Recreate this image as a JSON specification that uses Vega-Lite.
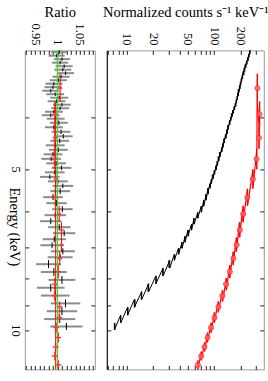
{
  "$schema": "https://vega.github.io/schema/vega-lite/v6.json",
  "padding": {"left": 6.8, "top": 3.4, "right": 0, "bottom": 0},
  "spacing": 0,
  "config": {
    "font": "Liberation Serif",
    "view": {"stroke": "#9a9a9a", "strokeWidth": 1},
    "axis": {
      "labelFont": "Liberation Serif", "titleFont": "Liberation Serif",
      "labelFontSize": 12.5, "titleFontSize": 14.5, "titleFontWeight": "normal",
      "labelColor": "#000", "titleColor": "#000", "tickColor": "#222",
      "domain": false, "grid": false, "tickSize": -4, "labelPadding": 9.5, "labelFlush": false, "labelOverlap": false
    }
  },
  "datasets": {
    "black": [
      {"i":1,"lo":3.000,"hi":3.046,"e":3.023,"mod":256,"cts":257,"r":1.004,"re":0.018},
      {"i":2,"lo":3.046,"hi":3.092,"e":3.069,"mod":249,"cts":248.5,"r":0.998,"re":0.018},
      {"i":3,"lo":3.092,"hi":3.139,"e":3.115,"mod":242,"cts":244.4,"r":1.010,"re":0.018},
      {"i":4,"lo":3.139,"hi":3.187,"e":3.163,"mod":235,"cts":236.4,"r":1.006,"re":0.018},
      {"i":5,"lo":3.187,"hi":3.235,"e":3.211,"mod":227,"cts":230.4,"r":1.015,"re":0.019},
      {"i":6,"lo":3.235,"hi":3.284,"e":3.26,"mod":221,"cts":223.7,"r":1.012,"re":0.019},
      {"i":7,"lo":3.284,"hi":3.334,"e":3.309,"mod":215,"cts":218.9,"r":1.018,"re":0.019},
      {"i":8,"lo":3.334,"hi":3.385,"e":3.36,"mod":210,"cts":211.7,"r":1.008,"re":0.019},
      {"i":9,"lo":3.385,"hi":3.437,"e":3.411,"mod":205,"cts":205.4,"r":1.002,"re":0.019},
      {"i":10,"lo":3.437,"hi":3.489,"e":3.463,"mod":201,"cts":199.4,"r":0.992,"re":0.019},
      {"i":11,"lo":3.489,"hi":3.542,"e":3.515,"mod":197,"cts":195.0,"r":0.990,"re":0.019},
      {"i":12,"lo":3.542,"hi":3.596,"e":3.569,"mod":192,"cts":189.1,"r":0.985,"re":0.019},
      {"i":13,"lo":3.596,"hi":3.650,"e":3.623,"mod":188,"cts":187.1,"r":0.995,"re":0.02},
      {"i":14,"lo":3.650,"hi":3.706,"e":3.678,"mod":184,"cts":184.7,"r":1.004,"re":0.02},
      {"i":15,"lo":3.706,"hi":3.762,"e":3.734,"mod":180,"cts":179.6,"r":0.998,"re":0.02},
      {"i":16,"lo":3.762,"hi":3.819,"e":3.79,"mod":175,"cts":176.8,"r":1.010,"re":0.02},
      {"i":17,"lo":3.819,"hi":3.878,"e":3.848,"mod":170,"cts":171.0,"r":1.006,"re":0.02},
      {"i":18,"lo":3.878,"hi":3.936,"e":3.907,"mod":165,"cts":163.7,"r":0.992,"re":0.02},
      {"i":19,"lo":3.936,"hi":3.996,"e":3.966,"mod":160,"cts":157.6,"r":0.985,"re":0.02},
      {"i":20,"lo":3.996,"hi":4.057,"e":4.026,"mod":155,"cts":154.4,"r":0.996,"re":0.02},
      {"i":21,"lo":4.057,"hi":4.137,"e":4.097,"mod":150,"cts":150.5,"r":1.003,"re":0.02},
      {"i":22,"lo":4.137,"hi":4.218,"e":4.177,"mod":145,"cts":143.8,"r":0.992,"re":0.02},
      {"i":23,"lo":4.218,"hi":4.301,"e":4.259,"mod":140,"cts":141.1,"r":1.008,"re":0.021},
      {"i":24,"lo":4.301,"hi":4.385,"e":4.343,"mod":135,"cts":136.8,"r":1.013,"re":0.021},
      {"i":25,"lo":4.385,"hi":4.471,"e":4.428,"mod":130,"cts":130.7,"r":1.005,"re":0.021},
      {"i":26,"lo":4.471,"hi":4.559,"e":4.515,"mod":126,"cts":125.4,"r":0.995,"re":0.021},
      {"i":27,"lo":4.559,"hi":4.648,"e":4.603,"mod":122,"cts":122.2,"r":1.002,"re":0.021},
      {"i":28,"lo":4.648,"hi":4.739,"e":4.693,"mod":117,"cts":115.8,"r":0.990,"re":0.021},
      {"i":29,"lo":4.739,"hi":4.832,"e":4.785,"mod":113,"cts":111.4,"r":0.986,"re":0.022},
      {"i":30,"lo":4.832,"hi":4.927,"e":4.879,"mod":109,"cts":108.7,"r":0.997,"re":0.022},
      {"i":31,"lo":4.927,"hi":5.023,"e":4.975,"mod":105,"cts":105.9,"r":1.009,"re":0.022},
      {"i":32,"lo":5.023,"hi":5.122,"e":5.072,"mod":101,"cts":100.4,"r":0.994,"re":0.022},
      {"i":33,"lo":5.122,"hi":5.222,"e":5.172,"mod":97,"cts":95.4,"r":0.983,"re":0.022},
      {"i":34,"lo":5.222,"hi":5.325,"e":5.273,"mod":93,"cts":93.1,"r":1.001,"re":0.022},
      {"i":35,"lo":5.325,"hi":5.429,"e":5.377,"mod":89,"cts":90.1,"r":1.012,"re":0.023},
      {"i":36,"lo":5.429,"hi":5.571,"e":5.5,"mod":85,"cts":85.5,"r":1.006,"re":0.022},
      {"i":37,"lo":5.571,"hi":5.717,"e":5.644,"mod":81,"cts":80.2,"r":0.990,"re":0.022},
      {"i":38,"lo":5.717,"hi":5.867,"e":5.792,"mod":76,"cts":75.8,"r":0.998,"re":0.023},
      {"i":39,"lo":5.867,"hi":6.021,"e":5.944,"mod":71,"cts":71.8,"r":1.011,"re":0.023},
      {"i":40,"lo":6.021,"hi":6.179,"e":6.1,"mod":65,"cts":64.7,"r":0.995,"re":0.024},
      {"i":41,"lo":6.179,"hi":6.341,"e":6.26,"mod":59,"cts":58.1,"r":0.985,"re":0.024},
      {"i":42,"lo":6.341,"hi":6.507,"e":6.424,"mod":55,"cts":55.2,"r":1.004,"re":0.025},
      {"i":43,"lo":6.507,"hi":6.678,"e":6.592,"mod":50,"cts":50.8,"r":1.015,"re":0.025},
      {"i":44,"lo":6.678,"hi":6.853,"e":6.765,"mod":46.5,"cts":46.2,"r":0.993,"re":0.026},
      {"i":45,"lo":6.853,"hi":7.033,"e":6.943,"mod":43,"cts":42.5,"r":0.988,"re":0.026},
      {"i":46,"lo":7.033,"hi":7.217,"e":7.125,"mod":39,"cts":39.5,"r":1.012,"re":0.027},
      {"i":47,"lo":7.217,"hi":7.406,"e":7.311,"mod":35,"cts":35.2,"r":1.006,"re":0.028},
      {"i":48,"lo":7.406,"hi":7.661,"e":7.533,"mod":31,"cts":30.4,"r":0.980,"re":0.028},
      {"i":49,"lo":7.661,"hi":7.924,"e":7.792,"mod":26,"cts":25.8,"r":0.992,"re":0.029},
      {"i":50,"lo":7.924,"hi":8.196,"e":8.06,"mod":21.5,"cts":21.7,"r":1.010,"re":0.03},
      {"i":51,"lo":8.196,"hi":8.478,"e":8.337,"mod":17.8,"cts":17.5,"r":0.985,"re":0.031},
      {"i":52,"lo":8.478,"hi":8.769,"e":8.623,"mod":14.8,"cts":14.7,"r":0.995,"re":0.032},
      {"i":53,"lo":8.769,"hi":9.070,"e":8.918,"mod":12.2,"cts":12.4,"r":1.018,"re":0.033},
      {"i":54,"lo":9.070,"hi":9.382,"e":9.225,"mod":10.2,"cts":10.3,"r":1.010,"re":0.034},
      {"i":55,"lo":9.382,"hi":9.704,"e":9.542,"mod":8.5,"cts":8.5,"r":1.005,"re":0.035},
      {"i":56,"lo":9.704,"hi":10.0,"e":9.85,"mod":7.2,"cts":7.3,"r":1.020,"re":0.036}
    ],
    "red": [
      {"i":1,"lo":3.318,"hi":3.740,"e":3.53,"mod":311,"cts":313,"r":1.006,"re":0.005},
      {"i":2,"lo":3.740,"hi":4.166,"e":3.95,"mod":332,"cts":330,"r":0.994,"re":0.005},
      {"i":3,"lo":4.166,"hi":4.581,"e":4.37,"mod":327,"cts":325,"r":0.994,"re":0.005},
      {"i":4,"lo":4.581,"hi":5.007,"e":4.79,"mod":308,"cts":306,"r":0.993,"re":0.005},
      {"i":5,"lo":5.007,"hi":5.443,"e":5.22,"mod":278,"cts":277,"r":0.996,"re":0.005},
      {"i":6,"lo":5.443,"hi":5.858,"e":5.65,"mod":241,"cts":240,"r":0.995,"re":0.005},
      {"i":7,"lo":5.858,"hi":6.285,"e":6.07,"mod":214,"cts":215,"r":1.004,"re":0.005},
      {"i":8,"lo":6.285,"hi":6.716,"e":6.5,"mod":195,"cts":197,"r":1.009,"re":0.005},
      {"i":9,"lo":6.716,"hi":7.137,"e":6.93,"mod":179,"cts":181,"r":1.009,"re":0.005},
      {"i":10,"lo":7.137,"hi":7.565,"e":7.35,"mod":165,"cts":166,"r":1.005,"re":0.005},
      {"i":11,"lo":7.565,"hi":7.998,"e":7.78,"mod":151,"cts":151,"r":1.002,"re":0.005},
      {"i":12,"lo":7.998,"hi":8.422,"e":8.21,"mod":138,"cts":137,"r":0.994,"re":0.006},
      {"i":13,"lo":8.422,"hi":8.843,"e":8.63,"mod":125,"cts":124,"r":0.994,"re":0.006},
      {"i":14,"lo":8.843,"hi":9.269,"e":9.05,"mod":111.4,"cts":112,"r":1.005,"re":0.006},
      {"i":15,"lo":9.269,"hi":9.690,"e":9.48,"mod":100.6,"cts":101,"r":1.004,"re":0.006},
      {"i":16,"lo":9.690,"hi":10.117,"e":9.9,"mod":92.3,"cts":92,"r":0.997,"re":0.006},
      {"i":17,"lo":10.117,"hi":10.549,"e":10.33,"mod":83.8,"cts":84,"r":1.002,"re":0.006},
      {"i":18,"lo":10.549,"hi":10.972,"e":10.76,"mod":77.8,"cts":77.5,"r":0.996,"re":0.007},
      {"i":19,"lo":10.972,"hi":11.402,"e":11.19,"mod":71.4,"cts":71,"r":0.994,"re":0.007},
      {"i":20,"lo":11.402,"hi":11.85,"e":11.62,"mod":64.9,"cts":65,"r":1.002,"re":0.007}
    ]
  },
  "hconcat": [
    {
      "width": 70,
      "height": 319,
      "resolve": {"axis": {"x": "independent", "y": "independent"}},
      "layer": [
        {
          "data": {"name": "black"},
          "mark": {"type": "errorbar", "rule": {"color": "#8c8c8c", "strokeWidth": 2}},
          "encoding": {
            "x": {"field": "r", "type": "quantitative", "scale": {"domain": [0.927, 1.0835], "nice": false, "zero": false}, "axis": null},
            "xError": {"field": "re"},
            "y": {"field": "e", "type": "quantitative", "scale": {"type": "log", "domain": [3, 11.85], "reverse": true, "nice": false}, "axis": null}
          }
        },
        {
          "data": {"name": "black"},
          "mark": {"type": "rule", "color": "#000", "strokeWidth": 1},
          "encoding": {
            "x": {"field": "r", "type": "quantitative", "scale": {"domain": [0.927, 1.0835], "nice": false, "zero": false},
              "axis": {"orient": "top", "title": "Ratio", "labelAngle": 90, "titleBaseline": "alphabetic", "titleY": -34,
                "values": [0.93,0.94,0.95,0.96,0.97,0.98,0.99,1,1.01,1.02,1.03,1.04,1.05,1.06,1.07,1.08],
                "labelExpr": "datum.value == 0.95 ? '0.95' : (datum.value == 1 ? '1' : (datum.value == 1.05 ? '1.05' : ''))"}},
            "y": {"field": "lo", "type": "quantitative", "scale": {"type": "log", "domain": [3, 11.85], "reverse": true, "nice": false},
              "axis": {"orient": "left", "title": "Energy (keV)", "titleAngle": 90, "titleBaseline": "top", "titleX": -4, "titleY": 176, "labelAngle": 90, "labelPadding": 7.7,
                "values": [4,5,6,7,8,9,10],
                "labelExpr": "datum.value == 5 ? '5' : (datum.value == 10 ? '10' : '')"}},
            "y2": {"field": "hi"}
          }
        },
        {
          "data": {"values": [{"r": 0.996, "lo": 3.74, "hi": 11.85}]},
          "mark": {"type": "rule", "color": "#ff0000", "strokeWidth": 1},
          "encoding": {
            "x": {"field": "r", "type": "quantitative", "scale": {"domain": [0.927, 1.0835], "nice": false, "zero": false}, "axis": null},
            "y": {"field": "lo", "type": "quantitative", "scale": {"type": "log", "domain": [3, 11.85], "reverse": true, "nice": false}, "axis": null},
            "y2": {"field": "hi"}
          }
        },
        {
          "data": {"values": [{"v": 1}]},
          "mark": {"type": "rule", "color": "#2fe02f", "strokeWidth": 1.3},
          "encoding": {
            "x": {"field": "v", "type": "quantitative", "scale": {"domain": [0.927, 1.0835], "nice": false, "zero": false}, "axis": null}
          }
        },
        {
          "data": {"name": "red"},
          "mark": {"type": "errorbar", "rule": {"color": "#ff0000", "strokeWidth": 1}},
          "encoding": {
            "x": {"field": "r", "type": "quantitative", "scale": {"domain": [0.927, 1.0835], "nice": false, "zero": false}, "axis": null},
            "xError": {"field": "re"},
            "y": {"field": "e", "type": "quantitative", "scale": {"type": "log", "domain": [3, 11.85], "reverse": true, "nice": false}, "axis": null}
          }
        },
        {
          "data": {"name": "red"},
          "mark": {"type": "rule", "color": "#ff0000", "strokeWidth": 1},
          "encoding": {
            "x": {"field": "r", "type": "quantitative", "scale": {"domain": [0.927, 1.0835], "nice": false, "zero": false},
              "axis": {"orient": "bottom", "title": null, "labels": false,
                "values": [0.93,0.94,0.95,0.96,0.97,0.98,0.99,1,1.01,1.02,1.03,1.04,1.05,1.06,1.07,1.08]}},
            "y": {"field": "lo", "type": "quantitative", "scale": {"type": "log", "domain": [3, 11.85], "reverse": true, "nice": false},
              "axis": {"orient": "right", "title": null, "labels": false, "values": [4,5,6,7,8,9,10]}},
            "y2": {"field": "hi"}
          }
        },
        {
          "data": {"name": "red"},
          "mark": {"type": "circle", "color": "#ff5a5a", "opacity": 0.55, "size": 14},
          "encoding": {
            "x": {"field": "r", "type": "quantitative", "scale": {"domain": [0.927, 1.0835], "nice": false, "zero": false}, "axis": null},
            "y": {"field": "e", "type": "quantitative", "scale": {"type": "log", "domain": [3, 11.85], "reverse": true, "nice": false}, "axis": null}
          }
        }
      ]
    },
    {
      "width": 157,
      "height": 319,
      "resolve": {"axis": {"x": "independent", "y": "independent"}},
      "layer": [
        {
          "data": {"name": "black"},
          "transform": [{"fold": ["lo", "hi"], "as": ["k", "edge"]}],
          "mark": {"type": "line", "color": "#000", "strokeWidth": 1},
          "encoding": {
            "x": {"field": "mod", "type": "quantitative", "scale": {"type": "log", "domain": [5.9, 370], "nice": false}, "axis": null},
            "y": {"field": "edge", "type": "quantitative", "scale": {"type": "log", "domain": [3, 11.85], "reverse": true, "nice": false}, "axis": null},
            "order": [{"field": "i", "type": "quantitative"}, {"field": "edge", "type": "quantitative"}]
          }
        },
        {
          "data": {"name": "black"},
          "mark": {"type": "rule", "color": "#000", "strokeWidth": 1.2},
          "encoding": {
            "x": {"field": "cts", "type": "quantitative", "scale": {"type": "log", "domain": [5.9, 370], "nice": false},
              "axis": {"orient": "top", "title": "Normalized counts s⁻¹ keV⁻¹", "labelAngle": 90, "titleBaseline": "alphabetic", "titleY": -34,
                "values": [6,7,8,9,10,20,30,40,50,60,70,80,90,100,200,300],
                "labelExpr": "(datum.value == 10 || datum.value == 20 || datum.value == 50 || datum.value == 100 || datum.value == 200) ? '' + datum.value : ''"}},
            "y": {"field": "lo", "type": "quantitative", "scale": {"type": "log", "domain": [3, 11.85], "reverse": true, "nice": false},
              "axis": {"orient": "left", "title": null, "labels": false, "domain": true, "domainColor": "#000", "domainWidth": 1, "values": [4,5,6,7,8,9,10]}},
            "y2": {"field": "hi"}
          }
        },
        {
          "data": {"name": "red"},
          "transform": [{"fold": ["lo", "hi"], "as": ["k", "edge"]}],
          "mark": {"type": "line", "color": "#ff0000", "strokeWidth": 1.2},
          "encoding": {
            "x": {"field": "mod", "type": "quantitative", "scale": {"type": "log", "domain": [5.9, 370], "nice": false}, "axis": null},
            "y": {"field": "edge", "type": "quantitative", "scale": {"type": "log", "domain": [3, 11.85], "reverse": true, "nice": false}, "axis": null},
            "order": [{"field": "i", "type": "quantitative"}, {"field": "edge", "type": "quantitative"}]
          }
        },
        {
          "data": {"name": "red"},
          "mark": {"type": "rule", "color": "#ff0000", "strokeWidth": 1},
          "encoding": {
            "x": {"field": "cts", "type": "quantitative", "scale": {"type": "log", "domain": [5.9, 370], "nice": false},
              "axis": {"orient": "bottom", "title": null, "labels": false, "values": [6,7,8,9,10,20,30,40,50,60,70,80,90,100,200,300]}},
            "y": {"field": "lo", "type": "quantitative", "scale": {"type": "log", "domain": [3, 11.85], "reverse": true, "nice": false},
              "axis": {"orient": "right", "title": null, "labels": false, "values": [4,5,6,7,8,9,10]}},
            "y2": {"field": "hi"}
          }
        },
        {
          "data": {"name": "red"},
          "mark": {"type": "circle", "fill": "#ff6e6e", "fillOpacity": 0.75, "stroke": "#ff2a2a", "strokeWidth": 0.8, "size": 26},
          "encoding": {
            "x": {"field": "cts", "type": "quantitative", "scale": {"type": "log", "domain": [5.9, 370], "nice": false}, "axis": null},
            "y": {"field": "e", "type": "quantitative", "scale": {"type": "log", "domain": [3, 11.85], "reverse": true, "nice": false}, "axis": null}
          }
        }
      ]
    }
  ]
}
